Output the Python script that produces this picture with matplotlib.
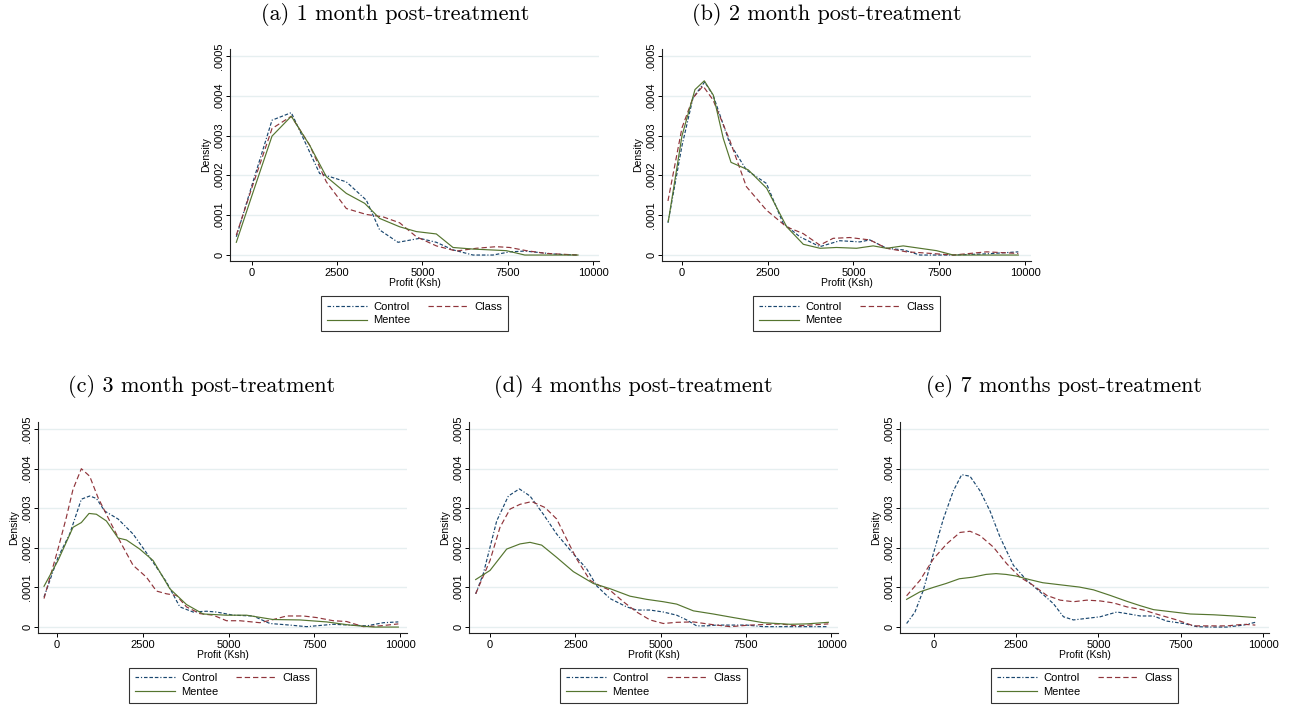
import numpy as np
import matplotlib
matplotlib.use("Agg")
import matplotlib.pyplot as plt

# kernel density of profit (density values x 1e-4)
titles = ["(a) 1 month post-treatment", "(b) 2 month post-treatment",
          "(c) 3 month post-treatment", "(d) 4 months post-treatment",
          "(e) 7 months post-treatment"]
series_names = ["Control", "Class", "Mentee"]
yticks = [0, 0.0001, 0.0002, 0.0003, 0.0004, 0.0005]
ytick_labels = ["0", ".0001", ".0002", ".0003", ".0004", ".0005"]
xticks = [0, 2500, 5000, 7500, 10000]

# (a) 1 month
a_control_x = [-460, 0, 587, 1153, 1984, 2766, 3353, 3744, 4282, 4917, 5406, 5894, 6481, 7067, 7556, 8000, 8925, 9560]
a_control_y = [0.46, 1.76, 3.39, 3.58, 2.05, 1.84, 1.38, 0.63, 0.32, 0.42, 0.32, 0.13, 0.0, 0.0, 0.08, 0.10, 0.02, 0.0]
a_class_x = [-460, 0, 587, 1153, 1691, 2180, 2766, 3353, 3842, 4331, 4819, 5406, 5992, 6579, 7165, 7556, 8045, 8631, 9560]
a_class_y = [0.50, 1.70, 3.18, 3.49, 2.76, 1.84, 1.17, 1.02, 0.96, 0.81, 0.46, 0.23, 0.10, 0.17, 0.21, 0.19, 0.11, 0.04, 0.0]
a_mentee_x = [-460, 0, 587, 1153, 1691, 2180, 2766, 3304, 3744, 4331, 4819, 5406, 5894, 6481, 7458, 8000, 8925, 9560]
a_mentee_y = [0.32, 1.50, 2.99, 3.49, 2.76, 1.97, 1.55, 1.30, 0.92, 0.71, 0.59, 0.53, 0.19, 0.15, 0.11, 0.0, 0.0, 0.0]

# (b) 2 months
b_control_x = [-409, 0, 321, 661, 905, 1391, 1877, 2461, 2947, 3434, 4018, 4601, 5185, 5477, 5963, 6449, 6936, 7909, 8881, 9805]
b_control_y = [0.81, 2.75, 3.95, 4.35, 4.02, 2.81, 2.14, 1.80, 0.80, 0.46, 0.21, 0.36, 0.33, 0.38, 0.17, 0.13, 0.0, 0.0, 0.03, 0.08]
b_class_x = [-409, 0, 321, 613, 905, 1391, 1877, 2461, 3045, 3531, 4018, 4407, 4893, 5477, 5963, 6547, 6936, 7909, 8881, 9805]
b_class_y = [1.36, 3.20, 3.95, 4.25, 3.90, 2.89, 1.72, 1.13, 0.71, 0.54, 0.25, 0.42, 0.44, 0.38, 0.17, 0.08, 0.06, 0.0, 0.08, 0.04]
b_mentee_x = [-400, 0, 379, 650, 913, 1204, 1429, 1933, 2468, 3052, 3537, 4023, 4504, 5088, 5574, 5963, 6449, 6936, 7422, 7909, 9805]
b_mentee_y = [0.84, 3.00, 4.16, 4.38, 4.02, 2.93, 2.33, 2.14, 1.68, 0.71, 0.27, 0.17, 0.19, 0.17, 0.23, 0.17, 0.23, 0.17, 0.11, 0.0, 0.0]

# (c) 3 months
c_control_x = [-379, 29, 370, 710, 953, 1148, 1391, 1780, 2218, 2704, 3191, 3580, 3969, 4358, 4650, 5136, 5720, 6206, 6790, 7276, 8054, 8541, 9027, 9514, 9951]
c_control_y = [0.76, 1.76, 2.35, 3.23, 3.31, 3.25, 2.93, 2.73, 2.35, 1.76, 1.14, 0.51, 0.38, 0.40, 0.38, 0.30, 0.28, 0.09, 0.05, 0.01, 0.07, 0.05, 0.03, 0.11, 0.13]
c_class_x = [-379, 29, 272, 467, 710, 953, 1196, 1537, 1878, 2218, 2607, 2899, 3191, 3482, 3774, 4163, 4553, 4942, 5331, 5914, 6304, 6693, 7179, 7568, 8054, 8444, 8930, 9416, 9951]
c_class_y = [0.72, 1.97, 2.77, 3.48, 4.00, 3.81, 3.27, 2.68, 2.10, 1.56, 1.26, 0.91, 0.84, 0.80, 0.51, 0.34, 0.30, 0.16, 0.16, 0.11, 0.19, 0.28, 0.28, 0.24, 0.16, 0.14, 0.01, 0.03, 0.08]
c_mentee_x = [-379, 29, 467, 710, 934, 1148, 1440, 1780, 2023, 2412, 2802, 3288, 3774, 4261, 4942, 5525, 6304, 7082, 7860, 8541, 9222, 9951]
c_mentee_y = [1.03, 1.68, 2.52, 2.64, 2.87, 2.85, 2.68, 2.25, 2.20, 1.97, 1.68, 0.97, 0.57, 0.33, 0.30, 0.30, 0.19, 0.18, 0.13, 0.05, 0.0, 0.0]

# (d) 4 months
d_control_x = [-420, -196, 196, 538, 860, 1173, 1564, 1955, 2444, 2835, 3128, 3519, 4008, 4301, 4692, 5083, 5474, 5767, 6060, 6354, 6647, 7038, 7527, 8016, 8993, 9922]
d_control_y = [0.84, 1.35, 2.68, 3.31, 3.49, 3.31, 2.85, 2.35, 1.85, 1.47, 1.04, 0.72, 0.51, 0.43, 0.43, 0.38, 0.30, 0.18, 0.03, 0.03, 0.05, 0.05, 0.05, 0.01, 0.01, 0.01]
d_class_x = [-420, 0, 293, 587, 880, 1222, 1613, 1955, 2248, 2542, 2933, 3226, 3519, 3910, 4301, 4692, 5083, 5474, 5963, 6452, 7038, 7625, 8504, 8993, 9922]
d_class_y = [0.84, 1.68, 2.52, 2.98, 3.10, 3.17, 3.02, 2.73, 2.22, 1.72, 1.18, 1.04, 0.93, 0.64, 0.38, 0.18, 0.09, 0.12, 0.13, 0.07, 0.01, 0.05, 0.08, 0.03, 0.08]
d_mentee_x = [-420, 0, 489, 880, 1173, 1515, 1955, 2444, 3030, 3519, 4106, 4594, 5083, 5474, 5963, 6549, 7136, 8016, 8798, 9287, 9922]
d_mentee_y = [1.20, 1.43, 1.97, 2.10, 2.14, 2.07, 1.76, 1.40, 1.10, 0.97, 0.78, 0.70, 0.64, 0.58, 0.41, 0.33, 0.24, 0.11, 0.07, 0.08, 0.12]

# (e) 7 months
e_control_x = [-832, -578, -325, -20, 284, 588, 842, 1095, 1400, 1704, 2008, 2414, 2819, 3225, 3631, 3935, 4239, 4645, 5051, 5558, 5862, 6268, 6673, 7079, 7586, 7992, 8398, 8905, 9412, 9767]
e_control_y = [0.09, 0.38, 0.93, 1.85, 2.73, 3.44, 3.85, 3.81, 3.44, 2.93, 2.27, 1.56, 1.18, 0.89, 0.59, 0.26, 0.18, 0.22, 0.26, 0.38, 0.34, 0.28, 0.28, 0.15, 0.09, 0.01, 0.0, 0.0, 0.05, 0.12]
e_class_x = [-832, -426, -20, 385, 791, 1095, 1400, 1805, 2211, 2617, 3022, 3428, 3834, 4239, 4645, 5051, 5456, 5862, 6369, 6876, 7383, 7890, 8398, 8905, 9412, 9767]
e_class_y = [0.79, 1.18, 1.72, 2.10, 2.39, 2.42, 2.31, 2.02, 1.60, 1.26, 1.05, 0.80, 0.68, 0.64, 0.68, 0.66, 0.61, 0.51, 0.43, 0.30, 0.18, 0.03, 0.03, 0.03, 0.07, 0.05]
e_mentee_x = [-832, -426, 10, 365, 771, 1176, 1582, 1886, 2191, 2495, 2901, 3306, 3813, 4422, 4848, 5355, 5862, 6268, 6673, 7282, 7789, 8499, 9108, 9767]
e_mentee_y = [0.70, 0.89, 1.01, 1.10, 1.22, 1.26, 1.33, 1.35, 1.33, 1.29, 1.20, 1.12, 1.07, 1.01, 0.94, 0.80, 0.65, 0.54, 0.44, 0.38, 0.33, 0.31, 0.28, 0.24]

panels = [
    [(a_control_x, a_control_y), (a_class_x, a_class_y), (a_mentee_x, a_mentee_y)],
    [(b_control_x, b_control_y), (b_class_x, b_class_y), (b_mentee_x, b_mentee_y)],
    [(c_control_x, c_control_y), (c_class_x, c_class_y), (c_mentee_x, c_mentee_y)],
    [(d_control_x, d_control_y), (d_class_x, d_class_y), (d_mentee_x, d_mentee_y)],
    [(e_control_x, e_control_y), (e_class_x, e_class_y), (e_mentee_x, e_mentee_y)],
]

# layout in pixels: left, top, right, bottom of the plot region, x range
W, H = 1290, 707
boxes = [(230, 49, 599, 261), (662, 49, 1031, 261),
         (38, 422, 407, 633), (469, 422, 838, 633), (900, 422, 1269, 633)]
xlims = [(-645, 10176), (-583, 10175), (-554, 10204), (-616, 10205), (-1033, 10182)]
title_pos = [(395, 15), (827, 15), (202, 386), (633, 386), (1064, 386)]

colors = ["#1a476f", "#90353b", "#55752f"]
styles = [(0, (3, 1.6, 1, 1.6, 3, 1.6, 3, 1.6)), (0, (4.5, 2.5)), "-"]

plt.rcParams['font.family'] = ['Liberation Sans', 'DejaVu Sans']
fig = plt.figure(figsize=(W / 100, H / 100), dpi=100)

for i, (l, t, r, b) in enumerate(boxes):
    ax = fig.add_axes([l / W, 1 - b / H, (r - l) / W, (b - t) / H])
    lines = []
    for (xs, ys), c, ls in zip(panels[i], colors, styles):
        ln, = ax.plot(xs, np.array(ys) * 1e-4, color=c, linestyle=ls, linewidth=0.85)
        lines.append(ln)
    ax.set_xlim(*xlims[i])
    ax.set_ylim(-0.000015, 0.000518)
    ax.set_xticks(xticks)
    ax.set_xticklabels([str(v) for v in xticks], fontsize=8)
    ax.set_yticks(yticks)
    ax.set_yticklabels(ytick_labels, fontsize=8, rotation=90, va='center')
    ax.tick_params(direction='out', length=3, width=0.7, pad=2)
    ax.tick_params(axis='y', pad=1)
    ax.grid(axis='y', color='#e6eff0', linewidth=1.0)
    ax.set_axisbelow(True)
    for s in ['top', 'right']:
        ax.spines[s].set_visible(False)
    for s in ['left', 'bottom']:
        ax.spines[s].set_linewidth(0.8)
        ax.spines[s].set_color('#222222')
    ax.set_xlabel("Profit (Ksh)", fontsize=7.5, labelpad=0)
    ax.set_ylabel("Density", fontsize=7.5)
    ax.yaxis.set_label_coords(-19 / (r - l), 0.5)
    leg = ax.legend([lines[0], lines[2], lines[1]],
                    [series_names[0], series_names[2], series_names[1]],
                    ncol=2, loc='upper center', bbox_to_anchor=(0.5, -0.165),
                    fontsize=8, frameon=True, fancybox=False, borderaxespad=0,
                    handlelength=3.6, columnspacing=1.5, labelspacing=0.35,
                    borderpad=0.5, handletextpad=0.6)
    leg.get_frame().set_edgecolor('black')
    leg.get_frame().set_linewidth(0.8)
    tx, ty = title_pos[i]
    fig.text(tx / W, 1 - ty / H, titles[i], family='cmr10', fontsize=16,
             ha='center', va='center')

fig.savefig("out.png", dpi=100)
